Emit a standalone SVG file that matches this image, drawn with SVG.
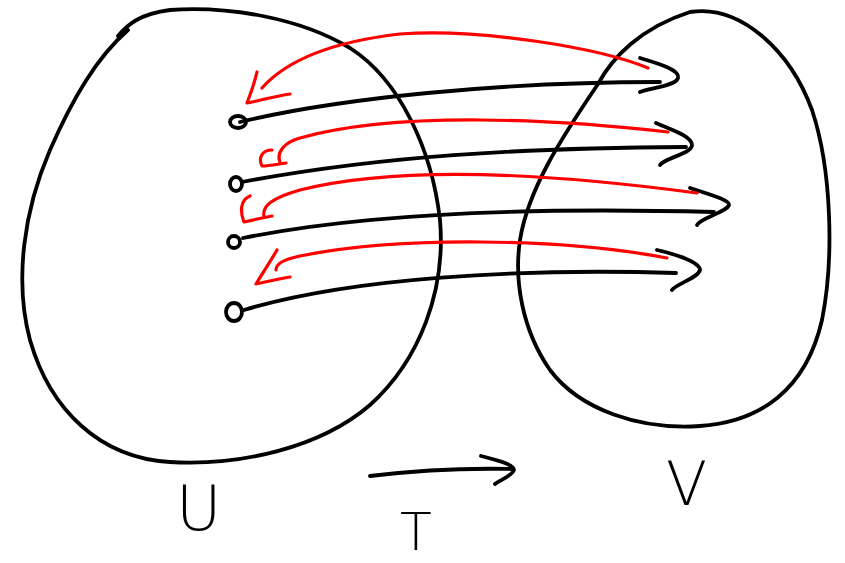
<svg xmlns="http://www.w3.org/2000/svg" width="845" height="563" viewBox="0 0 845 563">
<style>
.ink{fill:none;stroke:#000;stroke-width:3.8;stroke-linecap:round;stroke-linejoin:round}
.red{fill:none;stroke:#ff0000;stroke-width:3.2;stroke-linecap:round;stroke-linejoin:round}
.lbl{font-family:"DejaVu Sans",sans-serif;font-weight:200;fill:#000}
</style>
<rect width="845" height="563" fill="#fff"/>
<g id="setU">
<path class="ink" d="M118,36 C128,24 140,14 170,10 C230,6 300,18 350,48 C400,80 432,150 440,220 C446,290 420,360 370,405 C320,448 240,466 170,462 C100,458 50,410 30,340 C14,280 24,210 50,150 C72,100 96,58 128,30"/>
</g>
<g id="setV">
<path class="ink" d="M598,84 C612,58 640,28 690,12 C740,4 790,50 812,110 C832,170 834,260 822,320 C806,390 760,422 700,426 C640,430 580,410 550,370 C522,330 514,280 520,240 C528,190 560,140 598,84"/>
</g>
<g id="connectors">
<path class="ink" d="M240,122 C340,98 500,82 660,82"/>
<path class="ink" d="M640,58 C660,64 680,70 678,78 C676,86 650,88 640,92"/>
<path class="ink" d="M242,182 C380,156 520,148 686,147"/>
<path class="ink" d="M656,123 C672,130 692,136 692,145 C692,154 664,158 660,165"/>
<path class="ink" d="M243,238 C380,210 560,208 714,212"/>
<path class="ink" d="M690,188 C708,194 730,200 729,205 C727,212 700,218 697,225"/>
<path class="ink" d="M244,310 C350,278 520,268 676,273"/>
<path class="ink" d="M657,250 C675,254 700,262 700,270 C698,278 676,284 672,290"/>
<path class="red" d="M648,68 C600,48 480,28 400,34 C330,42 285,62 262,88"/>
<path class="red" d="M257,72 C254,85 250,95 247,103 C262,100 276,96 290,94"/>
<path class="red" d="M668,132 C560,120 400,110 300,138 C285,142 276,152 280,162"/>
<path class="red" d="M272,150 C262,150 258,158 262,166 C270,166 278,164 286,163"/>
<path class="red" d="M697,193 C600,180 420,160 300,190 C272,198 262,206 264,216"/>
<path class="red" d="M250,196 C240,200 240,212 244,222 C252,220 262,218 272,216"/>
<path class="red" d="M667,258 C560,238 400,236 300,256 C282,260 276,264 276,270"/>
<path class="red" d="M277,250 C270,262 262,274 256,284 C266,282 278,279 290,277"/>
<path class="ink" d="M370,476 C420,470 470,468 512,469"/>
<path class="ink" d="M481,456 C496,460 514,464 514,470 C512,476 500,480 495,484"/>
</g>
<g id="points">
<ellipse class="ink" cx="238" cy="122" rx="8" ry="6"/>
<ellipse class="ink" cx="236" cy="184" rx="6" ry="7"/>
<ellipse class="ink" cx="234" cy="242" rx="6" ry="6"/>
<ellipse class="ink" cx="234" cy="312" rx="8" ry="9"/>
</g>
<g id="labels">
<text class="lbl" x="176" y="530" font-size="62">U</text>
<text class="lbl" x="400" y="550" font-size="52">T</text>
<text class="lbl" x="666" y="505" font-size="60">V</text>
</g>
</svg>
